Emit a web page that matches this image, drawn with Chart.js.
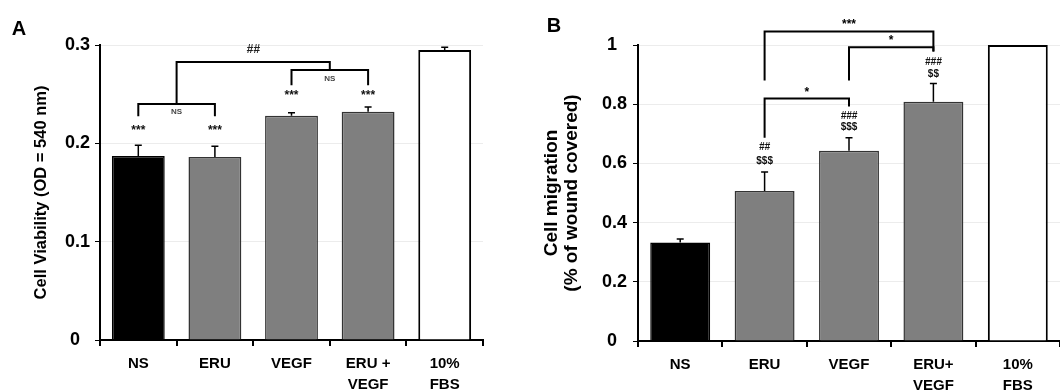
<!DOCTYPE html>
<html>
<head>
<meta charset="utf-8">
<script src="https://cdn.jsdelivr.net/npm/chart.js@4.4.1/dist/chart.umd.min.js"></script>
<style>
  body { margin: 0; background: #fff; }
  .panel { position: absolute; top: 0; width: 530px; height: 390px; }
</style>
</head>
<body>
<div class="panel" style="left:0"><canvas id="chartA" width="530" height="390"></canvas></div>
<div class="panel" style="left:530px"><canvas id="chartB" width="530" height="390"></canvas></div>
<script>
// --- data
const labelsA = [["NS"], ["ERU"], ["VEGF"], ["ERU +", "VEGF"], ["10%", "FBS"]];
const viability = [0.187, 0.186, 0.228, 0.232, 0.295];
const viabilityErr = [0.011, 0.011, 0.003, 0.005, 0.0026];
const ticksA = [0, 0.1, 0.2, 0.3];

const labelsB = [["NS"], ["ERU"], ["VEGF"], ["ERU+", "VEGF"], ["10%", "FBS"]];
const migration = [0.333, 0.507, 0.643, 0.808, 1.0];
const migrationErr = [0.012, 0.064, 0.044, 0.062, 0];
const ticksB = [0, 0.2, 0.4, 0.6, 0.8, 1];

// significance marks, in category index / value units
const marksA = [[0, 0.213, '***'], [1, 0.213, '***'], [2, 0.248, '***'], [3, 0.248, '***']];
const bracketsA = [
    [0, 1, 0.240, 0.2276, 0.2276, 'NS', 0.232],
    [2, 3, 0.2745, 0.259, 0.259, 'NS', 0.266],
    [0.5, 2.5, 0.2827, 0.240, 0.2745, '##', 0.295]
];
const marksB = [[1, 0.653, '##'], [1, 0.606, '$$$'], [2, 0.758, '###'], [2, 0.721, '$$$'], [3, 0.941, '###'], [3, 0.900, '$$']];
const bracketsB = [
    [1, 2, 0.819, 0.687, 0.792, '*', 0.839],
    [1, 3, 1.046, 0.880, 0.978, '***', 1.069],
    [2, 3, 0.992, 0.880, 0.978, '*', 1.015]
];

const FONT = '"Liberation Sans", Arial, sans-serif';
Chart.defaults.font.family = FONT;
Chart.defaults.color = '#000';

const GREY = '#7f7f7f';
const fills = ['#000', GREY, GREY, GREY, '#fff'];
const borders = ['#000', '#333', '#333', '#333', '#000'];
const borderW = [1.5, 1.5, 1.5, 1.5, 2];

// draws error bars, brackets, marks and the panel letter
const annotate = {
    id: 'annotate',
    afterDatasetsDraw(chart, args, opts) {
        const ctx = chart.ctx;
        const x = chart.scales.x, y = chart.scales.y;
        ctx.save();
        ctx.strokeStyle = '#000';
        ctx.fillStyle = '#000';
        // error bars (upper only)
        ctx.lineWidth = 1.5;
        const vals = chart.data.datasets[0].data;
        opts.errs.forEach(function (e, i) {
            if (!e) return;
            const px = x.getPixelForValue(i);
            const y0 = y.getPixelForValue(vals[i]);
            const y1 = y.getPixelForValue(vals[i] + e);
            ctx.beginPath();
            ctx.moveTo(px, y0); ctx.lineTo(px, y1);
            ctx.moveTo(px - 3.5, y1); ctx.lineTo(px + 3.5, y1);
            ctx.stroke();
        });
        // brackets
        ctx.lineWidth = 2;
        ctx.textAlign = 'center';
        ctx.textBaseline = 'middle';
        opts.brackets.forEach(function (b) {
            const xa = x.getPixelForValue(b[0]), xb = x.getPixelForValue(b[1]);
            const yt = y.getPixelForValue(b[2]);
            ctx.beginPath();
            ctx.moveTo(xa, y.getPixelForValue(b[3]));
            ctx.lineTo(xa, yt);
            ctx.lineTo(xb, yt);
            ctx.lineTo(xb, y.getPixelForValue(b[4]));
            ctx.stroke();
            if (b[5] === 'NS') {
                ctx.font = 'bold 8px ' + FONT;
                ctx.fillStyle = '#444';
            } else if (b[5].charAt(0) === '#') {
                ctx.font = 'italic bold 12px ' + FONT;
                ctx.fillStyle = '#222';
            } else {
                ctx.font = 'bold 12px ' + FONT;
                ctx.fillStyle = '#000';
            }
            ctx.fillText(b[5], (xa + xb) / 2, y.getPixelForValue(b[6]));
        });
        // marks above bars
        opts.marks.forEach(function (m) {
            ctx.fillStyle = '#111';
            ctx.font = (m[2].charAt(0) === '#' ? 'italic bold 10px ' : 'bold 10px ') + FONT;
            if (m[2].charAt(0) === '*') ctx.font = 'bold 12px ' + FONT;
            ctx.fillText(m[2], x.getPixelForValue(m[0]), y.getPixelForValue(m[1]));
        });
        // panel letter
        ctx.fillStyle = '#000';
        ctx.font = 'bold 20px ' + FONT;
        ctx.fillText(opts.letter[0], opts.letter[1], opts.letter[2]);
        ctx.restore();
    }
};

function makeChart(id, labels, values, errs, ticks, title, cfg) {
    return new Chart(document.getElementById(id), {
        type: 'bar',
        data: {
            labels: labels,
            datasets: [{
                data: values,
                backgroundColor: fills,
                borderColor: borders,
                borderWidth: borderW,
                barPercentage: cfg.barPct,
                categoryPercentage: 1
            }]
        },
        options: {
            responsive: false,
            animation: false,
            layout: { padding: { left: 0, right: cfg.padRight, top: 45, bottom: 0 } },
            plugins: {
                legend: { display: false },
                tooltip: { enabled: false },
                annotate: { errs: errs, brackets: cfg.brackets, marks: cfg.marks, letter: cfg.letter }
            },
            scales: {
                x: {
                    grid: { offset: true, drawOnChartArea: false, tickLength: 6, tickColor: '#000', lineWidth: 2 },
                    border: { color: '#000', width: 2 },
                    ticks: { font: { size: 15, weight: 'bold', lineHeight: 1.35 }, padding: 8, maxRotation: 0 },
                    afterFit: function (s) { s.height = cfg.xHeight; }
                },
                y: {
                    min: 0,
                    max: ticks[ticks.length - 1],
                    grid: { color: '#ececec', tickColor: '#000', tickLength: 5, lineWidth: 1 },
                    border: { color: '#000', width: 2 },
                    afterBuildTicks: function (s) { s.ticks = ticks.map(function (v) { return { value: v }; }); },
                    ticks: {
                        font: { size: 18, weight: 'bold' },
                        padding: cfg.tickPad,
                        callback: function (v) { return Number.isInteger(v) ? v + '\u2007' : String(v); }
                    },
                    title: {
                        display: true,
                        text: title,
                        font: { size: cfg.titleSize, weight: 'bold', lineHeight: cfg.titleLH },
                        padding: { top: cfg.titlePad, bottom: 0 }
                    },
                    afterFit: function (s) { s.width = cfg.yWidth; }
                }
            }
        },
        plugins: [annotate]
    });
}

makeChart('chartA', labelsA, viability, viabilityErr, ticksA, 'Cell Viability (OD = 540 nm)', {
    barPct: 0.69, padRight: 47, xHeight: 50, yWidth: 100, tickPad: 5,
    titleSize: 16.5, titleLH: 1.2, titlePad: 32,
    brackets: bracketsA, marks: marksA, letter: ['A', 19, 29]
});
makeChart('chartB', labelsB, migration, migrationErr, ticksB, ['Cell migration', '(% of wound covered)'], {
    barPct: 0.71, padRight: 0, xHeight: 49, yWidth: 108, tickPad: 6,
    titleSize: 19, titleLH: 1.05, titlePad: 12,
    brackets: bracketsB, marks: marksB, letter: ['B', 24, 26]
});
</script>
</body>
</html>
